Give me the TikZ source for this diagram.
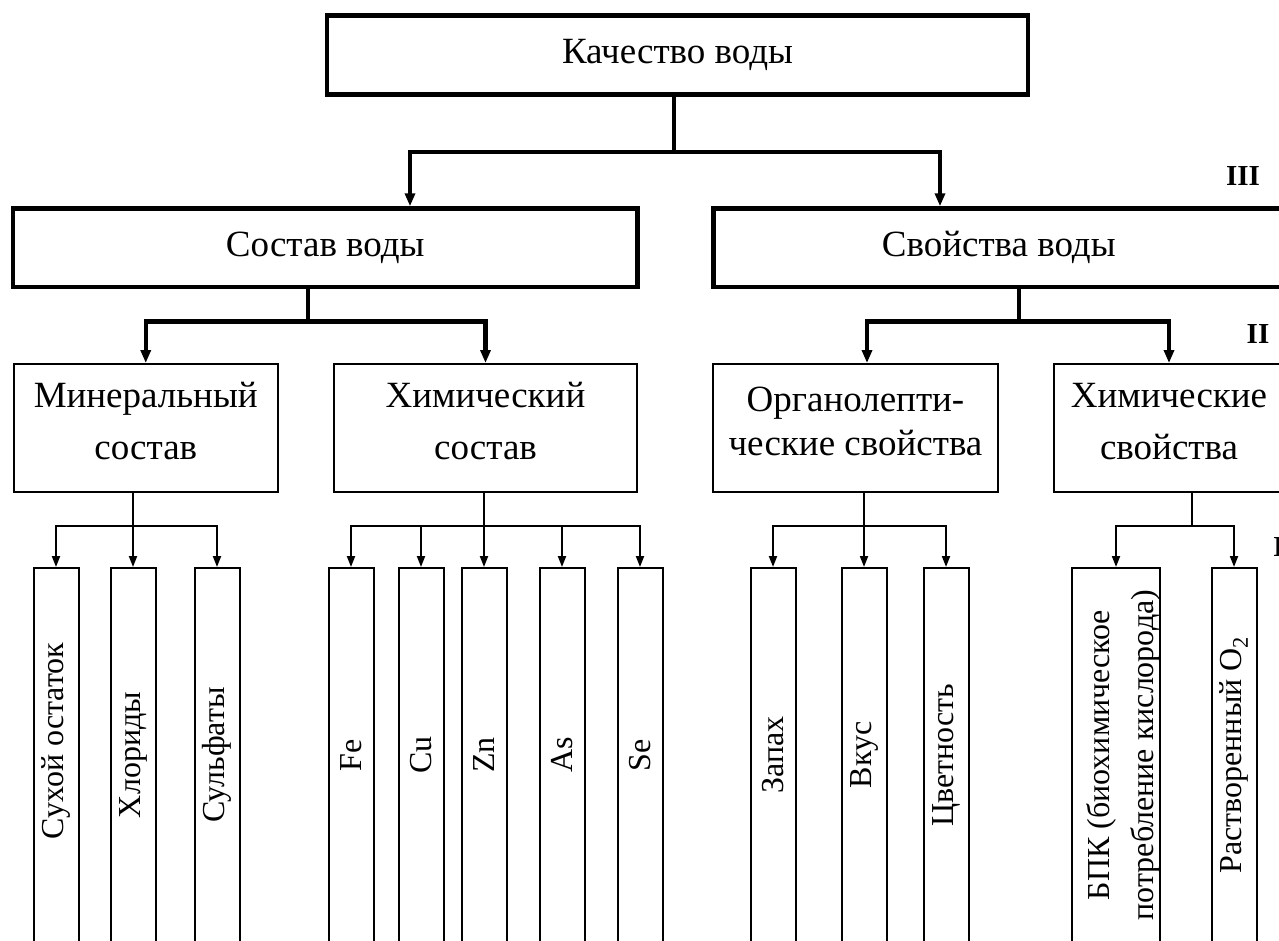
\documentclass[tikz,border=0pt]{standalone}
\usepackage{fontspec}
\setmainfont{Liberation Serif}
\usepackage{graphicx}
\usetikzlibrary{arrows.meta}

\tikzset{
	topbox/.style={draw, line width=4.5pt, inner sep=0pt, font=\fontsize{37}{44}\selectfont},
	subbox/.style={draw, line width=2pt, inner sep=0pt, align=center, text depth=14pt, font=\fontsize{37}{52}\selectfont},
	itembox/.style={draw, line width=2pt, inner sep=0pt, minimum width=45pt, minimum height=374pt, font=\fontsize{32}{44}\selectfont},
	thickline/.style={line width=4.5pt},
	thinline/.style={line width=2pt},
	thickarrow/.style={line width=4.5pt, -{Triangle[length=13pt, width=10pt]}},
	thinarrow/.style={line width=2pt, -{Triangle[length=11pt, width=8pt]}},
	levelmark/.style={inner sep=0pt, font=\fontsize{29}{34}\selectfont\bfseries}
}

\begin{document}
\begin{tikzpicture}[x=1pt, y=-1pt]
	%%%%% START %%%%%
	\useasboundingbox (0,0) rectangle (1279,940);
	\clip (0,0) rectangle (1279,940);
	
	% level III
	\node[topbox, minimum width=701pt, minimum height=79pt] (kach) at (677.5,55) {Качество воды};
	\node[topbox, minimum width=624.5pt, minimum height=78.5pt] (sostav) at (325.25,247.75) {Состав воды};
	\node[topbox, minimum width=570.5pt, minimum height=78.5pt] (svoist) at (998.75,247.75) {Свойства воды};
	
	% level II
	\node[subbox, minimum width=264.5pt, minimum height=128pt] (miner) at (145.75,428) {Минеральный\\состав};
	\node[subbox, minimum width=303pt, minimum height=128pt] (chem) at (485.5,428) {Химический\\состав};
	\node[subbox, minimum width=285pt, minimum height=128pt, font=\fontsize{37}{44}\selectfont] (organo) at (855.5,428) {Органолепти-\\ческие свойства};
	\node[subbox, minimum width=230pt, minimum height=128pt] (chemprop) at (1169,428) {Химические\\свойства};
	
	% level I
	\node[itembox] (suh) at (56,755) {\rotatebox{90}{\hspace*{28pt}Сухой остаток}};
	\node[itembox] (hlor) at (133,755) {\rotatebox{90}{Хлориды}};
	\node[itembox] (sulf) at (217,755) {\rotatebox{90}{Сульфаты}};
	
	\node[itembox] (fe) at (351,755) {\rotatebox{90}{Fe}};
	\node[itembox] (cu) at (421,755) {\rotatebox{90}{Cu}};
	\node[itembox] (zn) at (484,755) {\rotatebox{90}{Zn}};
	\node[itembox] (as) at (562,755) {\rotatebox{90}{As}};
	\node[itembox] (se) at (640,755) {\rotatebox{90}{Se}};
	
	\node[itembox] (zapah) at (773,755) {\rotatebox{90}{Запах}};
	\node[itembox] (vkus) at (864,755) {\rotatebox{90}{Вкус}};
	\node[itembox] (cvet) at (946,755) {\rotatebox{90}{Цветность}};
	
	\node[itembox, minimum width=76pt] (bpk) at (1116,755) {\rotatebox{90}{\raisebox{-7pt}[\height][\depth]{\begin{tabular}{@{}c@{}}БПК (биохимическое\\потребление кислорода)\end{tabular}}}};
	\node[itembox] (rastv) at (1234,755) {\rotatebox{90}{Растворенный O\textsubscript{2}}};
	
	\node[levelmark] (markIII) at (1243,176) {III};
	\node[levelmark] (markII) at (1258,334) {II};
	\node[levelmark, anchor=west] (markI) at (1273,547) {I};
	
	% connectors
	\coordinate (f0) at (674,152);
	\draw[thickline] (kach.south -| f0) -- (f0);
	\draw[thickarrow] (f0) -| ([xshift=84.75pt]sostav.north);
	\draw[thickarrow] (f0) -| ([xshift=-58.75pt]svoist.north);
	
	\coordinate (f1) at (308,321.5);
	\draw[thickline] (sostav.south -| f1) -- (f1);
	\draw[thickarrow] (f1) -| (miner.north);
	\draw[thickarrow] (f1) -| (chem.north);
	
	\coordinate (f2) at (1019,321.5);
	\draw[thickline] (svoist.south -| f2) -- (f2);
	\draw[thickarrow] (f2) -| ([xshift=11.5pt]organo.north);
	\draw[thickarrow] (f2) -| (chemprop.north);
	
	\coordinate (f3) at (133,526);
	\draw[thinline] (miner.south -| f3) -- (f3);
	\draw[thinarrow] (f3) -| (suh.north);
	\draw[thinarrow] (f3) -| (hlor.north);
	\draw[thinarrow] (f3) -| (sulf.north);
	
	\coordinate (f4) at (484,526);
	\draw[thinline] (chem.south -| f4) -- (f4);
	\draw[thinarrow] (f4) -| (fe.north);
	\draw[thinarrow] (f4) -| (cu.north);
	\draw[thinarrow] (f4) -| (zn.north);
	\draw[thinarrow] (f4) -| (as.north);
	\draw[thinarrow] (f4) -| (se.north);
	
	\coordinate (f5) at (864,526);
	\draw[thinline] (organo.south -| f5) -- (f5);
	\draw[thinarrow] (f5) -| (zapah.north);
	\draw[thinarrow] (f5) -| (vkus.north);
	\draw[thinarrow] (f5) -| (cvet.north);
	
	\coordinate (f6) at (1192,526);
	\draw[thinline] (chemprop.south -| f6) -- (f6);
	\draw[thinarrow] (f6) -| (bpk.north);
	\draw[thinarrow] (f6) -| (rastv.north);
	
	%%%%% END %%%%%
\end{tikzpicture}
\end{document}
